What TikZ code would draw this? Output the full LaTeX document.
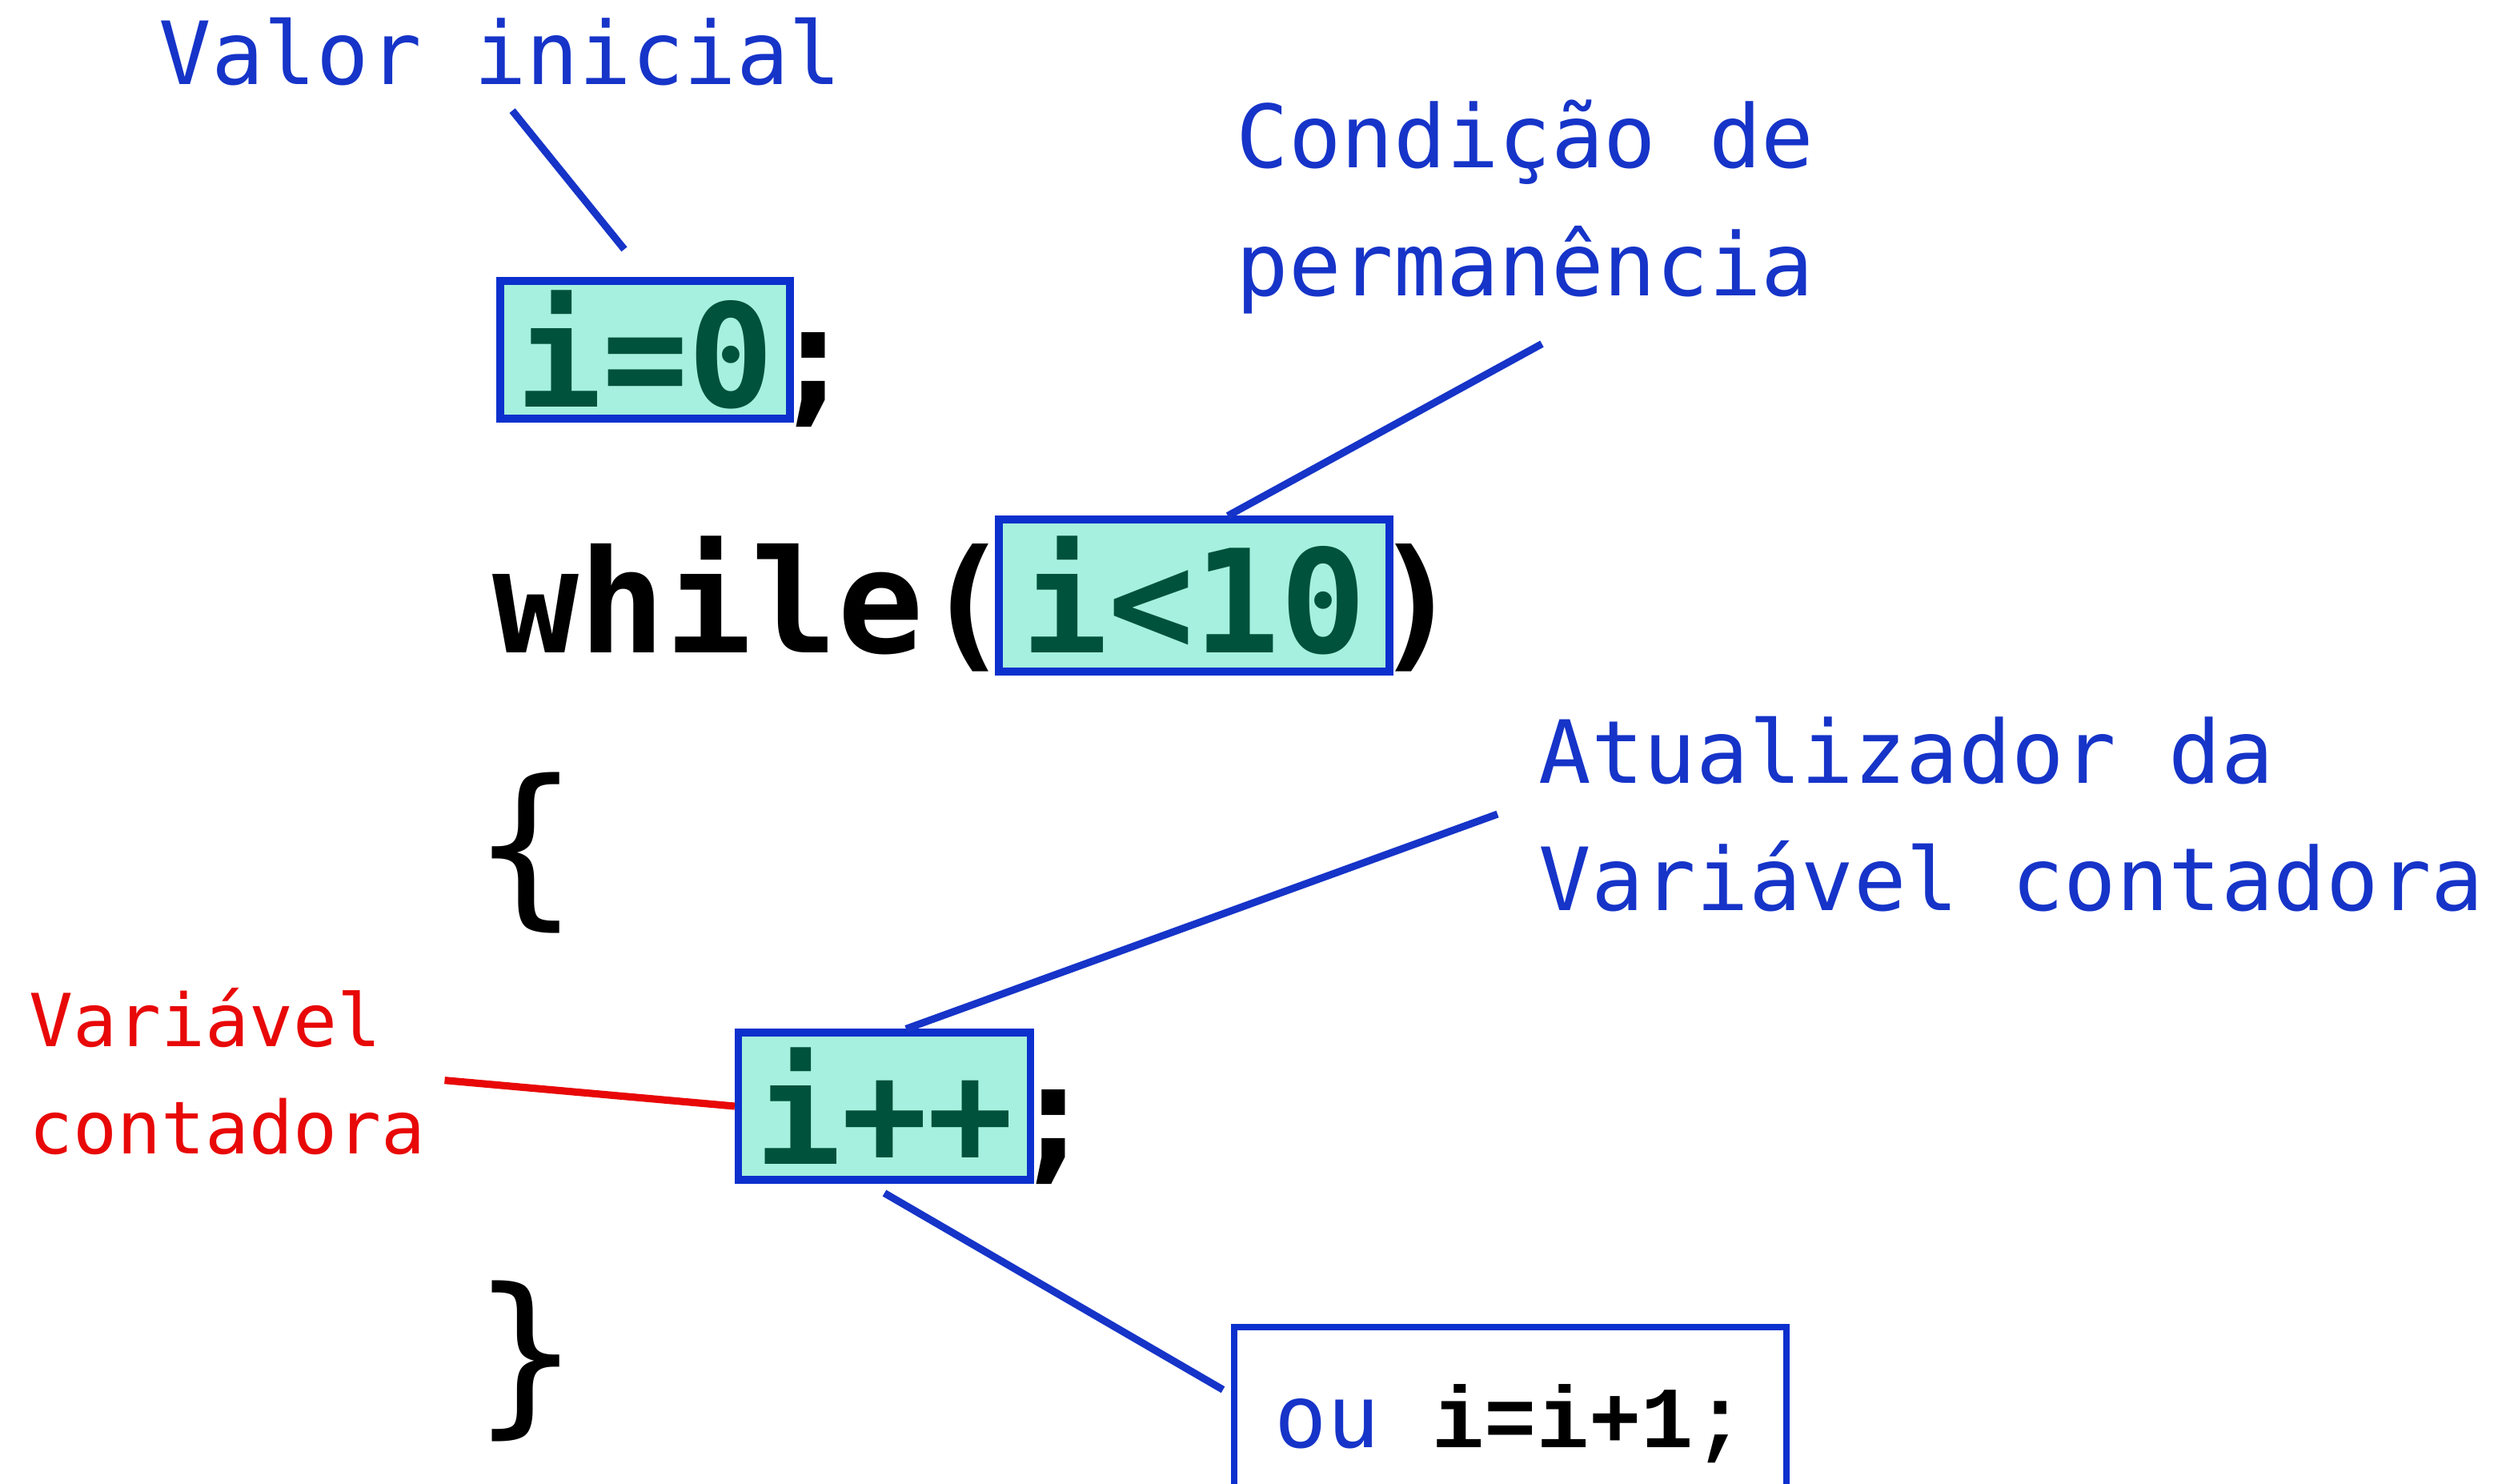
\documentclass[tikz,border=0pt]{standalone}
\usepackage{fontspec}
\setmonofont{DejaVu Sans Mono}
\newfontfamily\courierbold{Liberation Mono}[BoldFont=* Bold]
\usepackage{tikz}
\usetikzlibrary{calc}
\definecolor{boxblue}{RGB}{12,48,205}
\definecolor{boxfill}{RGB}{165,240,222}
\definecolor{codegreen}{RGB}{0,82,60}
\definecolor{noteblue}{RGB}{22,52,200}
\definecolor{notered}{RGB}{232,8,8}

\begin{document}
\begin{tikzpicture}[
    code style/.style={font=\ttfamily\bfseries\fontsize{51}{60}\selectfont, inner sep=0pt},
    brace style/.style={code style, font=\ttfamily\fontsize{62}{70}\selectfont},
    box style/.style={code style, draw=boxblue, fill=boxfill, line width=2.6pt, text=codegreen},
    note style/.style={font=\ttfamily\fontsize{31}{45.5}\selectfont, text=noteblue, align=left, inner sep=0pt},
    red style/.style={note style, font=\ttfamily\fontsize{26}{38}\selectfont, text=notered},
    link style/.style={draw=noteblue, line width=2.6pt},
    red link/.style={draw=notered, line width=2.6pt}
]
\useasboundingbox (0,0) rectangle (31.31,-18.54);

% code
\node[box style, minimum width=3.62cm, minimum height=1.72cm] (init) at (8.06,-4.37) {i=0};
\node[code style, anchor=base west, xshift=-0.3cm] (semi1) at (init.base east) {;};
\node[box style, minimum width=4.88cm, minimum height=1.9cm] (cond) at (14.92,-7.44) {i<10};
\node[code style, anchor=base east, xshift=0.2cm] (while) at (cond.base west) {while(};
\node[code style, anchor=base west, xshift=-0.25cm] (close) at (cond.base east) {)};
\node[brace style] (open brace) at (6.57,-10.65) {\{};
\node[box style, minimum width=3.65cm, minimum height=1.84cm] (inc) at (11.05,-13.82) {i++};
\node[code style, anchor=base west, xshift=-0.3cm] (semi2) at (inc.base east) {;};
\node[brace style] (close brace) at (6.57,-17.0) {\}};

% notes
\node[note style, anchor=base west] (valor) at (1.98,-1.06) {Valor inicial};
\node[note style, anchor=north west] (condnote) at (15.44,-1.24) {Condição de\\permanência};
\node[note style, anchor=north west] (atual) at (19.22,-8.94) {Atualizador da\\Variável contadora};
\node[red style, anchor=north west] (counter) at (0.36,-12.34) {Variável\\contadora};
\node[draw=boxblue, line width=2.4pt, anchor=north west, minimum width=6.9cm, minimum height=2.4cm,
      font=\ttfamily\fontsize{31}{40}\selectfont] (alt) at (15.38,-16.54)
      {\textcolor{noteblue}{ou} {\courierbold\bfseries i=i+1;}};

% connectors
\draw[link style] ([xshift=0.15cm,yshift=-0.3cm]valor.south) -- ([xshift=-0.26cm,yshift=0.35cm]init.north);
\draw[link style] ([xshift=0.21cm,yshift=-0.37cm]condnote.south) -- ([xshift=0.42cm]cond.north);
\draw[link style] ([xshift=-0.51cm]atual.west) -- ([xshift=0.27cm]inc.north);
\draw[red link] ([xshift=0.23cm,yshift=-0.11cm]counter.east) -- (inc.west);
\draw[link style] ([yshift=-0.12cm]inc.south) -- ([xshift=-0.1cm,yshift=0.42cm]alt.west);
\end{tikzpicture}
\end{document}
